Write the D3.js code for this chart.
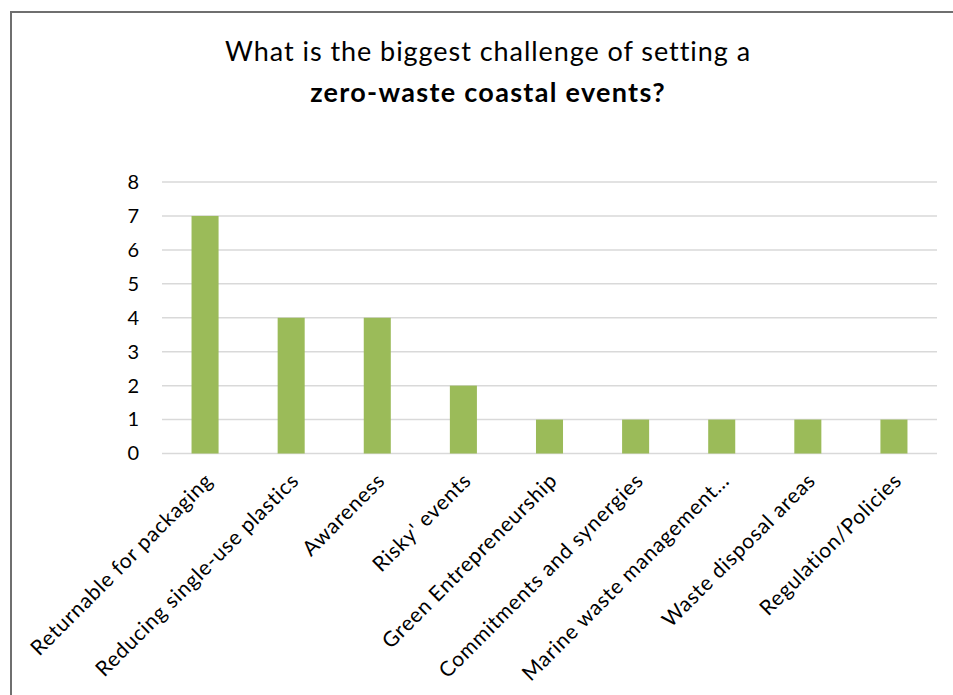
<!DOCTYPE html>
<html>
<head>
<meta charset="utf-8">
<script src="https://cdn.jsdelivr.net/npm/d3@7"></script>
<style>
  html, body { margin: 0; padding: 0; background: #fff; }
  svg { display: block; font-family: Lato, "Open Sans", sans-serif; }
</style>
</head>
<body>
<svg id="chart" width="953" height="695"></svg>
<script>
const categories = [
  "Returnable for packaging",
  "Reducing single-use plastics",
  "Awareness",
  "Risky' events",
  "Green Entrepreneurship",
  "Commitments and synergies",
  "Marine waste management…",
  "Waste disposal areas",
  "Regulation/Policies"
];
const values = [7, 4, 4, 2, 1, 1, 1, 1, 1];
const yTicks = [0, 1, 2, 3, 4, 5, 6, 7, 8];
const titleLine1 = "What is the biggest challenge of setting a";
const titleLine2 = "zero-waste coastal events?";

const svg = d3.select("#chart");

// outer frame
svg.append("rect")
  .attr("x", 11).attr("y", 12)
  .attr("width", 960).attr("height", 720)
  .attr("fill", "none")
  .attr("stroke", "#6f6f6f")
  .attr("stroke-width", 2);

// title
svg.append("text")
  .attr("x", 488).attr("y", 61)
  .attr("text-anchor", "middle")
  .attr("font-size", 27)
  .attr("letter-spacing", 0.95)
  .attr("fill", "#000")
  .text(titleLine1);
svg.append("text")
  .attr("x", 488).attr("y", 102)
  .attr("text-anchor", "middle")
  .attr("font-size", 27)
  .attr("letter-spacing", 1.3)
  .attr("font-weight", "bold")
  .attr("fill", "#000")
  .text(titleLine2);

const x = d3.scaleBand().domain(categories).range([162, 937]).padding(0);
const y = d3.scaleLinear().domain([0, 8]).range([453.5, 182]);
const barW = x.bandwidth() * 0.314;

// gridlines
svg.append("g")
  .selectAll("line")
  .data(yTicks)
  .join("line")
  .attr("x1", 162).attr("x2", 937)
  .attr("y1", d => y(d)).attr("y2", d => y(d))
  .attr("stroke", "#d9d9d9")
  .attr("stroke-width", 1.5);

// y axis labels
const yAxis = d3.axisLeft(y).tickValues(yTicks).tickSize(0).tickPadding(0);
const yg = svg.append("g").attr("transform", "translate(139,0)").call(yAxis);
yg.select(".domain").remove();
yg.selectAll("text")
  .attr("font-size", 20)
  .attr("font-family", "Lato, sans-serif")
  .attr("fill", "#000");

// bars
svg.append("g")
  .selectAll("rect")
  .data(values)
  .join("rect")
  .attr("x", (d, i) => x(categories[i]) + x.bandwidth() / 2 - barW / 2)
  .attr("y", d => y(d))
  .attr("width", barW)
  .attr("height", d => y(0) - y(d))
  .attr("fill", "#9bbb59");

// x labels
svg.append("g")
  .selectAll("text")
  .data(categories)
  .join("text")
  .attr("transform", d => `translate(${x(d) + x.bandwidth() / 2 + 9},${482}) rotate(-45)`)
  .attr("text-anchor", "end")
  .attr("font-size", 21)
  .attr("letter-spacing", 0.75)
  .attr("fill", "#000")
  .text(d => d);
</script>
</body>
</html>
